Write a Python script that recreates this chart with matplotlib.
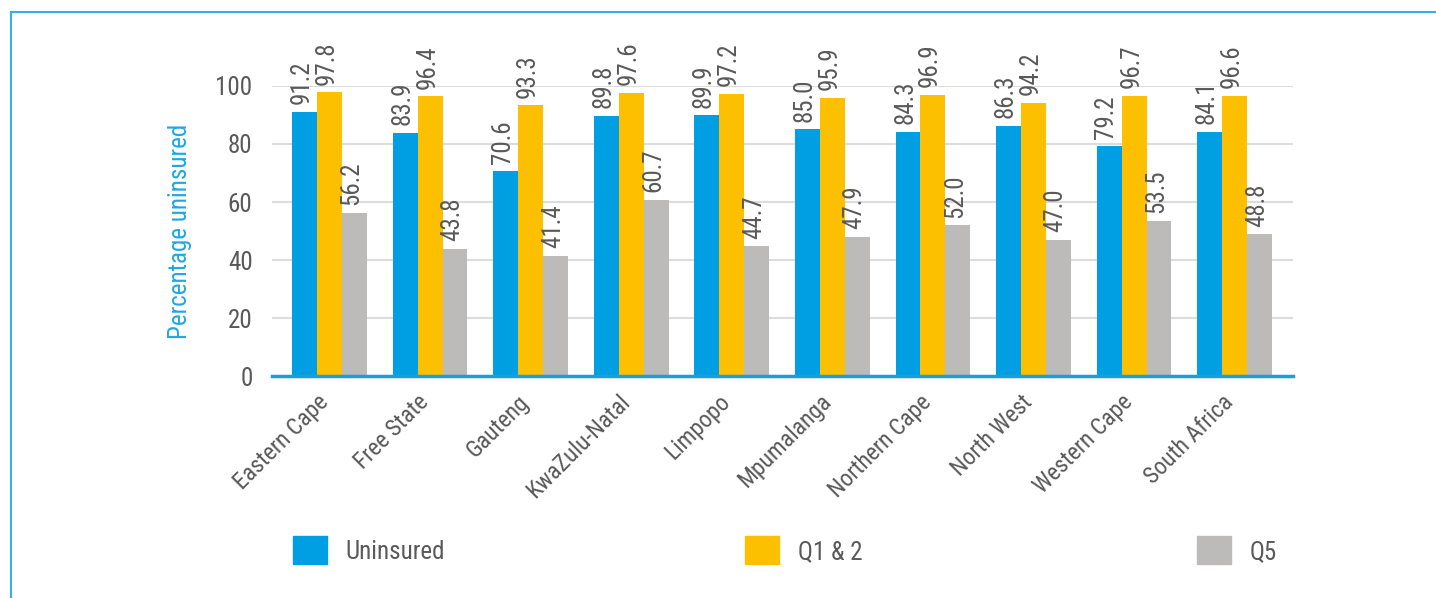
import matplotlib
matplotlib.use("Agg")
import matplotlib.pyplot as plt
import matplotlib.transforms as mtransforms
import numpy as np
from matplotlib.patches import Patch
from matplotlib.lines import Line2D

plt.rcParams['font.family'] = ['Roboto Condensed', 'Roboto', 'DejaVu Sans']

provinces = ["Eastern Cape", "Free State", "Gauteng", "KwaZulu-Natal", "Limpopo",
             "Mpumalanga", "Northern Cape", "North West", "Western Cape", "South Africa"]
uninsured = [91.2, 83.9, 70.6, 89.8, 89.9, 85.0, 84.3, 86.3, 79.2, 84.1]
q1_2 = [97.8, 96.4, 93.3, 97.6, 97.2, 95.9, 96.9, 94.2, 96.7, 96.6]
q5 = [56.2, 43.8, 41.4, 60.7, 44.7, 47.9, 52.0, 47.0, 53.5, 48.8]

series_names = ["Uninsured", "Q1 & 2", "Q5"]
colors = ["#009fe3", "#fcc000", "#bdbaba"]
text_col = "#595959"

fig = plt.figure(figsize=(14.36, 5.98), dpi=100)
ax = fig.add_axes([0.1894, 0.3712, 0.711, 0.485])

x = np.arange(len(provinces))
w = 0.248
for i, (vals, col) in enumerate(zip([uninsured, q1_2, q5], colors)):
    xs = x + (i - 1) * w
    ax.bar(xs, vals, width=w, color=col, zorder=3)
    for xi, v in zip(xs, vals):
        ax.annotate(f"{v:.1f}", (xi, v), xytext=(-2, 5.5), textcoords="offset points",
                    rotation=90, ha="center", va="bottom", fontsize=18,
                    color=text_col, annotation_clip=False)

ax.set_xlim(-0.572, 9.58)
ax.set_ylim(0, 100)
ax.set_yticks(range(0, 101, 20))
ax.yaxis.grid(True, color="#dcdcdc", linewidth=1.5, zorder=0)
ax.tick_params(axis="y", length=0, pad=14, labelsize=18, labelcolor=text_col)
ax.tick_params(axis="x", length=0, pad=6, labelsize=17, labelcolor=text_col)
ax.set_xticks(x)
ax.set_xticklabels(provinces, rotation=45, ha="right", va="top", rotation_mode="anchor")
shift = mtransforms.ScaledTranslation(-0.13, -0.06, fig.dpi_scale_trans)
for lbl in ax.get_xticklabels():
    lbl.set_transform(lbl.get_transform() + shift)
for s in ["top", "right", "left"]:
    ax.spines[s].set_visible(False)
ax.spines["bottom"].set_color("#1a9fd9")
ax.spines["bottom"].set_linewidth(2.5)
ax.spines["bottom"].set_zorder(4)
ax.set_ylabel("Percentage uninsured", color="#1ea8e1", fontsize=18, labelpad=17)

# legend entries spread evenly under the plot
for i, (name, col) in enumerate(zip(series_names, colors)):
    leg = fig.legend(handles=[Patch(color=col)], labels=[name],
                     loc="center left", bbox_to_anchor=(0.204 + i * 0.3149, 0.0795),
                     frameon=False, fontsize=18, handlelength=1.35, handleheight=1.35,
                     handletextpad=0.75, borderpad=0, borderaxespad=0)
    for t in leg.get_texts():
        t.set_color(text_col)

# outer frame lines
fig.add_artist(Line2D([0.0075, 0.0075], [0, 0.98], color="#36b0e6", linewidth=1.5))
fig.add_artist(Line2D([0.0075, 1], [0.98, 0.98], color="#36b0e6", linewidth=1.5))

fig.savefig("out.png", dpi=100)
